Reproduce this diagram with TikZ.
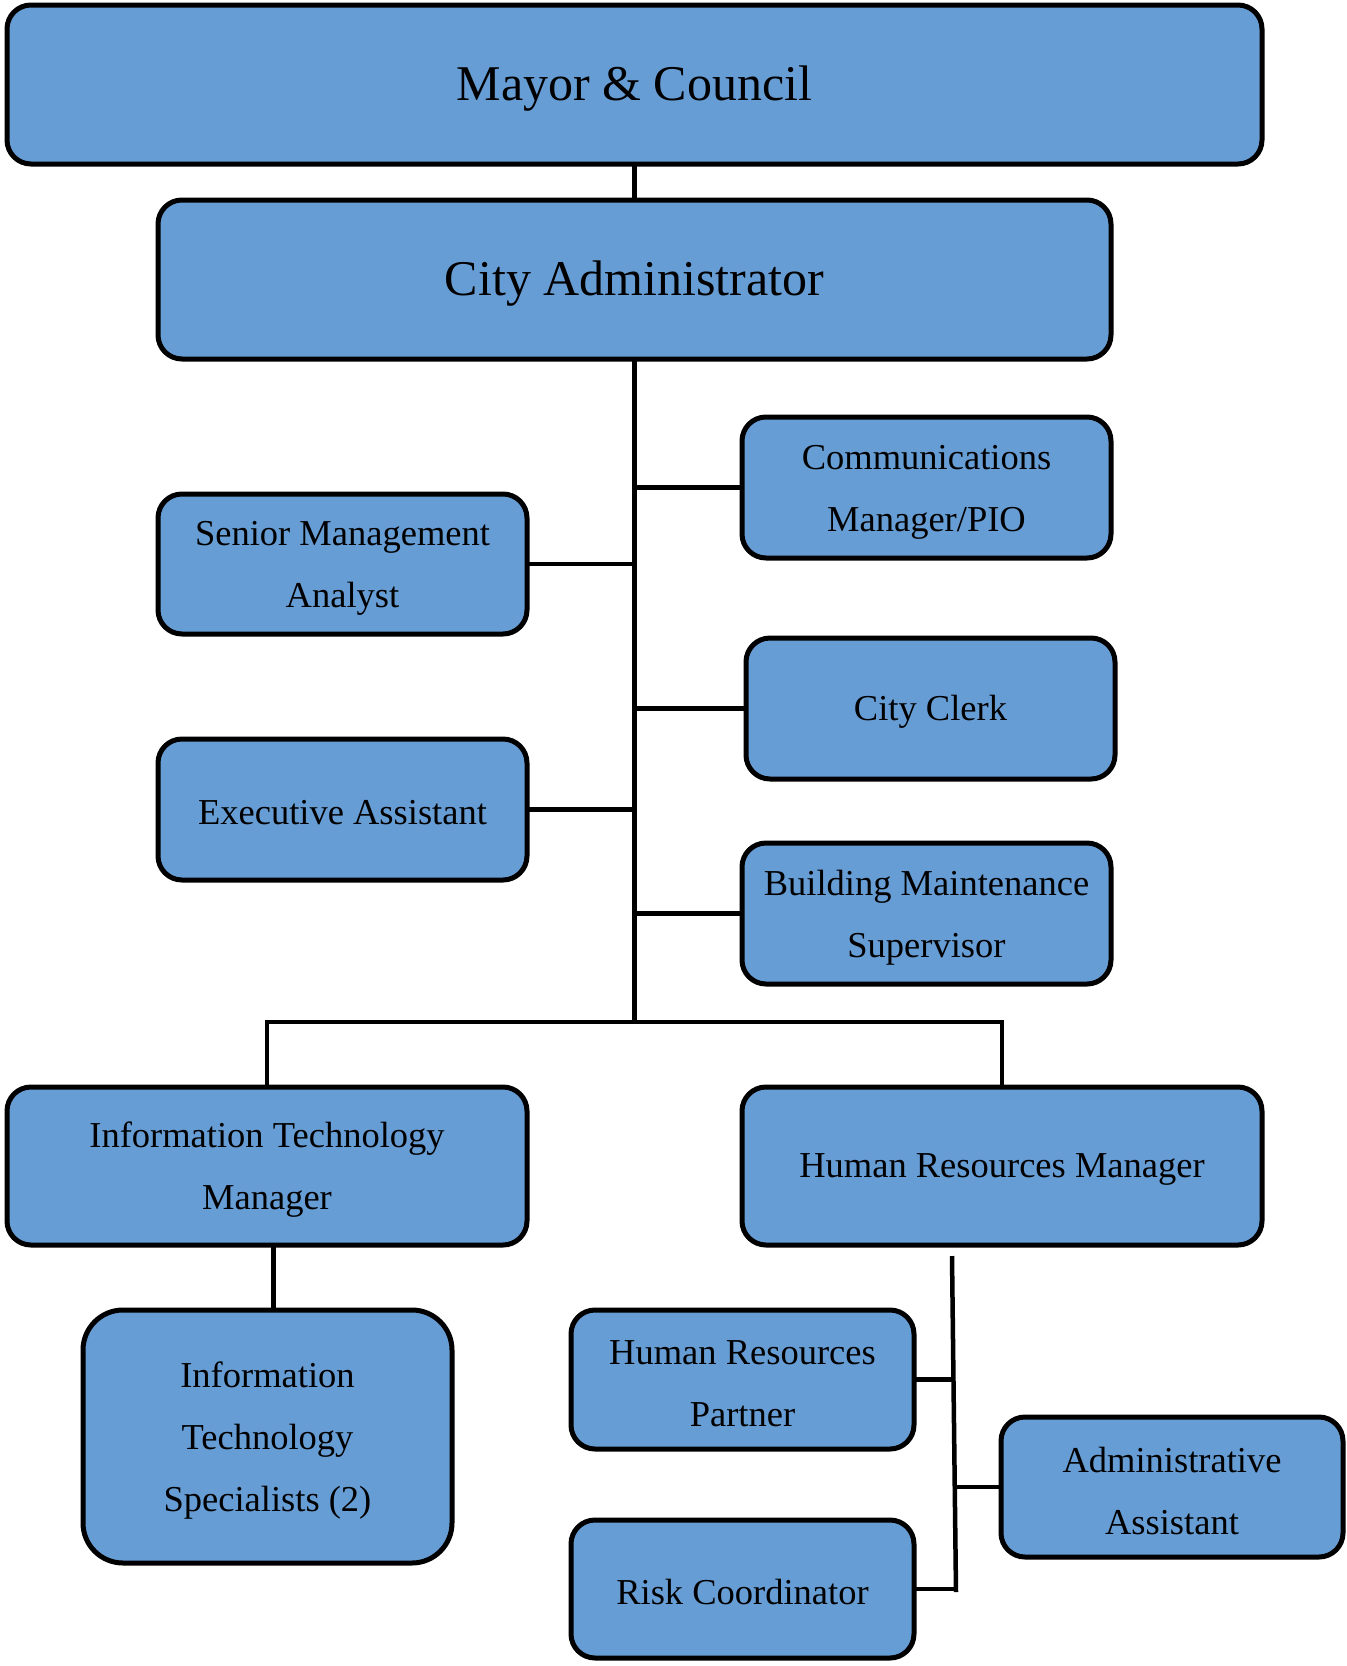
\documentclass[tikz,border=0pt]{standalone}
\usepackage{fontspec}
\setmainfont{Liberation Serif}
\usetikzlibrary{calc}
\definecolor{boxblue}{RGB}{103,157,213}
% strut that sets the height of the first text line
\newcommand\firstline{\rule{0pt}{33pt}}
\tikzset{
  orgbox/.style={draw=black, fill=boxblue, line width=5pt, rounded corners=24pt,
    inner sep=0pt, outer sep=0pt, align=center, text=black,
    font=\fontsize{36.5}{62}\selectfont,
    execute at begin node={\rule{0pt}{31pt}}},
  bigbox/.style={orgbox, font=\fontsize{50}{60}\selectfont,
    execute at begin node={\rule{0pt}{43pt}}},
  link/.style={draw=black, line width=4.5pt},
}
\begin{document}
\begin{tikzpicture}[x=1pt, y=-1pt]
\useasboundingbox (0,0) rectangle (1347,1666);

% top levels
\node[bigbox, minimum width=1255pt, minimum height=159pt] (mayor) at (634.5,84.5) {Mayor \& Council};
\node[bigbox, minimum width=953pt, minimum height=159pt] (cityadm) at (634.5,279.5) {City Administrator};

% staff reporting to the city administrator
\node[orgbox, minimum width=369pt, minimum height=141pt] (comm) at (926.5,487.5) {\firstline Communications\\Manager/PIO};
\node[orgbox, minimum width=369pt, minimum height=140pt] (sma) at (342.5,564) {\firstline Senior Management\\Analyst};
\node[orgbox, minimum width=369pt, minimum height=141pt] (clerk) at (930.5,708.5) {City Clerk};
\node[orgbox, minimum width=369pt, minimum height=141pt] (exec) at (342.5,809.5) {Executive Assistant};
\node[orgbox, minimum width=369pt, minimum height=141pt] (bms) at (926.5,913.5) {\firstline Building Maintenance\\Supervisor};

% department managers
\node[orgbox, minimum width=520pt, minimum height=158pt] (itm) at (267,1166) {\firstline Information Technology\\Manager};
\node[orgbox, minimum width=520pt, minimum height=158pt] (hrm) at (1002,1166) {Human Resources Manager};

% IT staff
\node[orgbox, rounded corners=40pt, minimum width=369pt, minimum height=253pt] (its) at (267.5,1436.5) {\firstline Information\\Technology\\Specialists (2)};

% HR staff
\node[orgbox, minimum width=343pt, minimum height=139pt] (hrp) at (742.5,1379.5) {\firstline Human Resources\\Partner};
\node[orgbox, minimum width=342pt, minimum height=140pt] (aa) at (1172,1487) {\firstline Administrative\\Assistant};
\node[orgbox, minimum width=343pt, minimum height=138pt] (risk) at (742.5,1589) {Risk Coordinator};

% main trunk
\coordinate (trunkend) at (634.5,1022);
\draw[link] (mayor.south) -- (cityadm.north);
\draw[link] (cityadm.south) -- (trunkend);
\draw[link] (comm.west) -- (comm.west -| trunkend);
\draw[link] (sma.east) -- (sma.east -| trunkend);
\draw[link] (clerk.west) -- (clerk.west -| trunkend);
\draw[link] (exec.east) -- (exec.east -| trunkend);
\draw[link] (bms.west) -- (bms.west -| trunkend);
\draw[link] (itm.north) |- (trunkend) -| (hrm.north);

% IT branch
\draw[link] ([xshift=6pt]its.north) -- ([xshift=6pt]its.north |- itm.south);

% HR branch
\coordinate (hrtop) at (952,1256);
\coordinate (hrbot) at (956,1592);
\draw[link] (hrtop) -- (hrbot);
\draw[link] (hrp.east) -- (953.5,1379.5);
\draw[link] (aa.west) -- (955,1487);
\draw[link] (risk.east) -- (hrbot |- risk.east);
\end{tikzpicture}
\end{document}
